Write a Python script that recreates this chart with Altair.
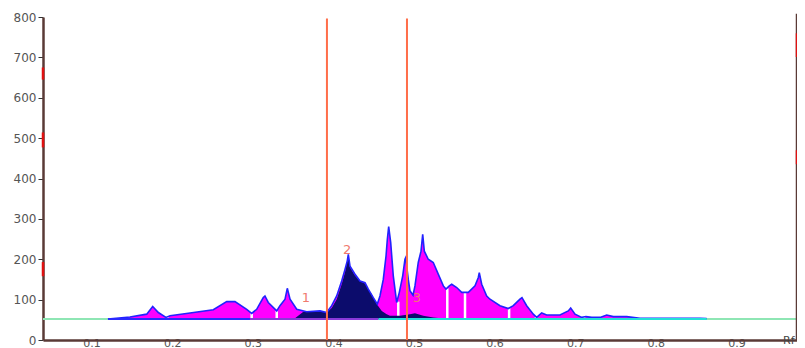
import altair as alt
import pandas as pd

# ---- data ----
X_MIN, X_MAX = 0.0397, 0.9752
Y_MAX = 800
BASELINE = 52

x_ticks = [0.1, 0.2, 0.3, 0.4, 0.5, 0.6, 0.7, 0.8, 0.9]
y_ticks = [0, 100, 200, 300, 400, 500, 600, 700, 800]

# total profile (magenta area with blue outline)
env_rf = [0.1203, 0.1476, 0.1684, 0.1758, 0.1828, 0.1923, 0.1973, 0.2221, 0.2510, 0.2676,
          0.2779, 0.2924, 0.2986, 0.3048, 0.3130, 0.3151, 0.3192, 0.3297, 0.3337, 0.3400,
          0.3428, 0.3462, 0.3545, 0.3669, 0.3834, 0.3917, 0.3979, 0.4041, 0.4103, 0.4144,
          0.4172, 0.4185, 0.4206, 0.4268, 0.4330, 0.4392, 0.4433, 0.4495, 0.4545, 0.4578,
          0.4619, 0.4653, 0.4669, 0.4686, 0.4711, 0.4743, 0.4785, 0.4818, 0.4860, 0.4888,
          0.4897, 0.4929, 0.4950, 0.4988, 0.5012, 0.5053, 0.5087, 0.5108, 0.5128, 0.5177,
          0.5239, 0.5301, 0.5364, 0.5397, 0.5438, 0.5468, 0.5530, 0.5592, 0.5674, 0.5757,
          0.5798, 0.5810, 0.5840, 0.5902, 0.5943, 0.6067, 0.6170, 0.6232, 0.6315, 0.6340,
          0.6398, 0.6480, 0.6522, 0.6584, 0.6646, 0.6811, 0.6914, 0.6944, 0.6998, 0.7081,
          0.7134, 0.7205, 0.7308, 0.7391, 0.7473, 0.7639, 0.7804, 0.8300, 0.8548, 0.8630]
env_val = [52, 57, 64, 83, 68, 56, 60, 67, 75, 95,
           95, 76, 66, 76, 105, 109, 93, 72, 85, 101,
           128, 101, 76, 70, 72, 68, 85, 109, 146, 175,
           196, 212, 183, 163, 146, 142, 126, 105, 89, 109,
           150, 208, 249, 281, 241, 159, 93, 118, 159, 200,
           204, 150, 122, 111, 134, 192, 220, 262, 220, 200,
           192, 163, 134, 126, 134, 138, 130, 118, 118, 134,
           155, 167, 138, 109, 101, 85, 78, 85, 101, 105,
           85, 64, 56, 67, 62, 62, 72, 79, 64, 56,
           58, 56, 56, 62, 58, 58, 54, 54, 54, 53]

# peak 2 component (navy area)
navy_rf = [0.3524, 0.3627, 0.3834, 0.3917, 0.3979, 0.4041, 0.4103, 0.4144, 0.4172, 0.4185,
           0.4206, 0.4268, 0.4330, 0.4392, 0.4433, 0.4475, 0.4537, 0.4600, 0.4661, 0.4702,
           0.4826, 0.4950, 0.5012, 0.5115, 0.5240, 0.5364]
navy_val = [54, 70, 72, 68, 79, 101, 138, 168, 195, 205,
            180, 160, 146, 140, 126, 114, 89, 72, 64, 60,
            60, 64, 66, 60, 56, 53]

# white separators between integrated zones
gap_rf = [0.1939, 0.2986, 0.3297, 0.4805, 0.5413, 0.5633, 0.6180, 0.6514, 0.7110]
gap_top = [57, 67, 73, 95, 128, 119, 80, 57, 58]

# baseline coloured segments
seg_start = [0.1203, 0.2965, 0.4560]
seg_end = [0.2965, 0.4560, 0.8630]
seg_color = ["#2a2aff", "#8a3ad8", "#22e0d8"]

# orange vertical markers
marker_rf = [0.3920, 0.4913]

# peak labels
label_text = ["1", "2", "3"]
label_rf = [0.3660, 0.4169, 0.5037]
label_val = [104, 222, 104]

# small red marks on the side axes
mark_rf = [X_MIN, X_MIN, X_MIN, X_MAX, X_MAX]
mark_lo = [645, 477, 158, 701, 435]
mark_hi = [675, 514, 193, 760, 470]

AXIS_COLOR = "#5a3a36"
LABEL_COLOR = "#555555"
FONT = "DejaVu Sans"

env_df = pd.DataFrame({"rf": env_rf, "val": env_val, "base": [BASELINE] * len(env_rf)})
navy_df = pd.DataFrame({"rf": navy_rf, "val": navy_val, "base": [BASELINE] * len(navy_rf)})
gap_df = pd.DataFrame({"rf": gap_rf, "val": gap_top, "base": [BASELINE] * len(gap_rf)})
seg_df = pd.DataFrame({"rf": seg_start, "x2": seg_end, "c": seg_color,
                       "val": [BASELINE] * len(seg_start)})
base_df = pd.DataFrame({"rf": [X_MIN], "x2": [X_MAX], "val": [BASELINE]})
marker_df = pd.DataFrame({"rf": marker_rf, "val": [0] * len(marker_rf), "hi": [796] * len(marker_rf)})
label_df = pd.DataFrame({"t": label_text, "rf": label_rf, "val": label_val})
mark_df = pd.DataFrame({"rf": mark_rf, "val": mark_lo, "hi": mark_hi})
right_df = pd.DataFrame({"rf": [X_MAX], "val": [0], "hi": [808]})

xs = alt.Scale(domain=[X_MIN, X_MAX], nice=False, zero=False)
ys = alt.Scale(domain=[0, Y_MAX], nice=False)

x_axis = alt.Axis(values=x_ticks, format=".1f", title=None, grid=False, tickSize=0,
                  labelPadding=-3, labelColor=LABEL_COLOR, labelFontSize=11, labelFont=FONT,
                  domainColor=AXIS_COLOR, domainWidth=2.5, labelOverlap=False, labelFlush=False)
y_axis = alt.Axis(values=y_ticks, title=None, grid=False, tickSize=5, tickColor="#333333",
                  labelPadding=2, labelColor=LABEL_COLOR, labelFontSize=12, labelFont=FONT,
                  domainColor=AXIS_COLOR, domainWidth=2.5, labelOverlap=False)

X = alt.X("rf:Q", scale=xs, axis=x_axis)
Y = alt.Y("val:Q", scale=ys, axis=y_axis)

baseline = alt.Chart(base_df).mark_rule(color="#8ee6b4", strokeWidth=2).encode(
    x=X, x2="x2:Q", y=Y,
)

magenta = alt.Chart(env_df).mark_area(color="#ff00ff", opacity=1).encode(
    x=X, y=Y, y2="base:Q",
)

gaps = alt.Chart(gap_df).mark_rule(color="white", strokeWidth=2.5).encode(
    x=X, y=Y, y2="base:Q",
)

navy = alt.Chart(navy_df).mark_area(color="#0c0c6c", opacity=1).encode(
    x=X, y=Y, y2="base:Q",
)

outline = alt.Chart(env_df).mark_line(color="#2222ff", strokeWidth=1.6).encode(
    x=X, y=Y,
)

segments = alt.Chart(seg_df).mark_rule(strokeWidth=2).encode(
    x=X, x2="x2:Q", y=Y,
    color=alt.Color("c:N", scale=None),
)

markers = alt.Chart(marker_df).mark_rule(color="#ff6e4a", strokeWidth=2).encode(
    x=X, y=Y, y2="hi:Q",
)

labels = alt.Chart(label_df).mark_text(color="#f07a6e", fontSize=13, font=FONT,
                                         baseline="middle", align="center").encode(
    x=X, y=Y, text="t:N",
)

right_axis = alt.Chart(right_df).mark_rule(color=AXIS_COLOR, strokeWidth=2.5).encode(
    x=X, y=Y, y2="hi:Q",
)

red_marks = alt.Chart(mark_df).mark_rule(color="#e01010", strokeWidth=2.5).encode(
    x=X, y=Y, y2="hi:Q",
)

rf_title = alt.Chart(base_df).mark_text(text="Rf", color="#444444", fontSize=11, font=FONT,
                                          align="left", baseline="top").encode(
    x=alt.value(740),
    y=alt.value(318),
)

chart = alt.layer(
    baseline, magenta, gaps, navy, outline, segments, markers, labels,
    right_axis, red_marks, rf_title,
).properties(
    width=754,
    height=323,
    autosize=alt.AutoSizeParams(type="none"),
    padding={"left": 35, "top": 9, "right": 0, "bottom": 8},
).configure_view(stroke=None)

chart.save("out.html", embed_options={"renderer": "svg", "actions": False})
